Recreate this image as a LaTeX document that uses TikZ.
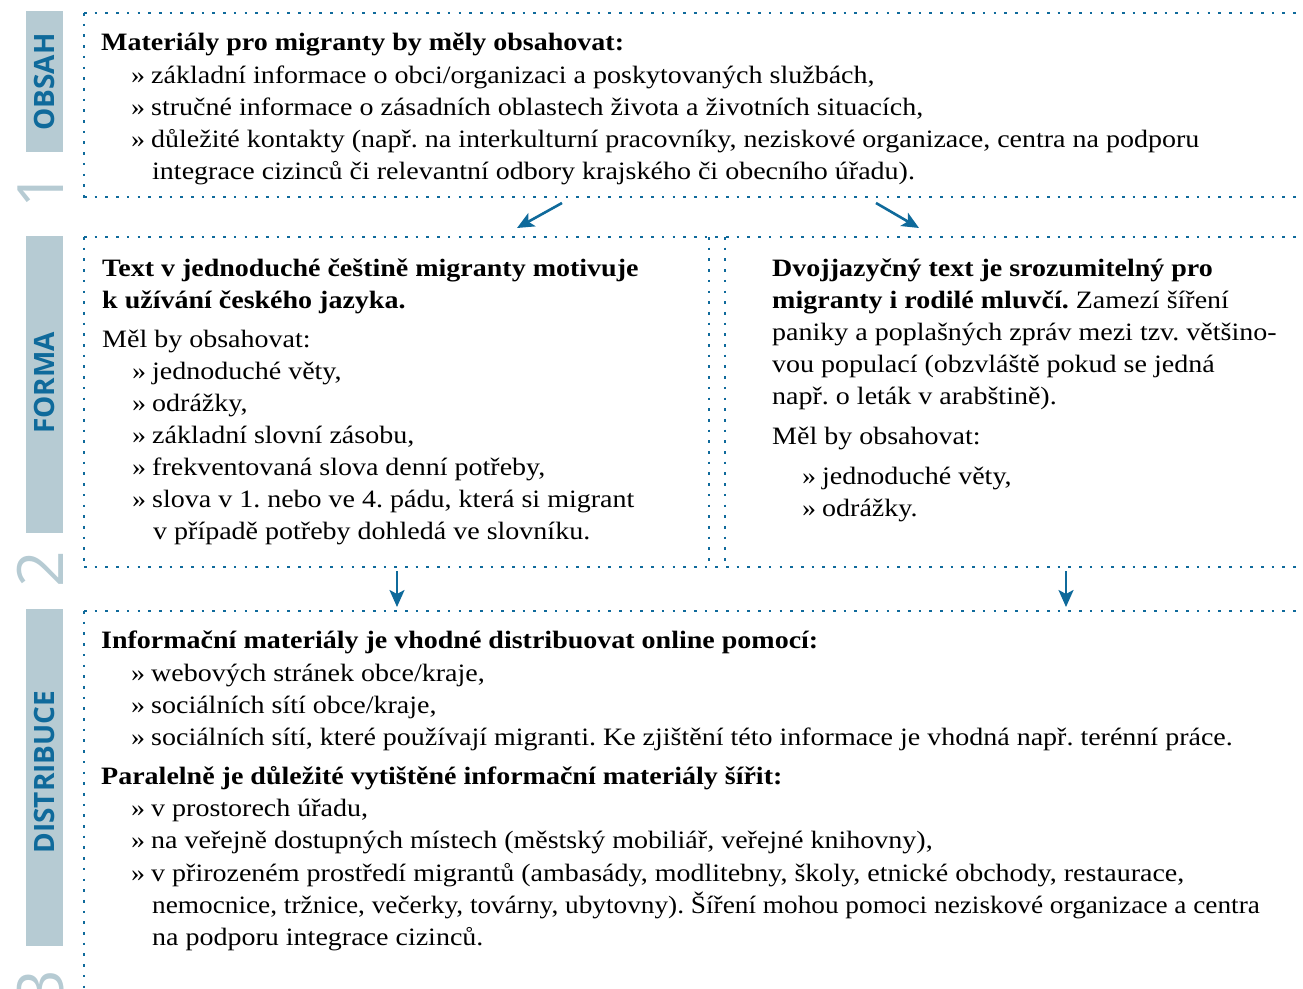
\documentclass[tikz,border=0pt]{standalone}
\usepackage{fontspec}
\usepackage{graphicx}
\setmainfont[FakeStretch=1.12]{Liberation Serif}
\newfontfamily\labelfont{Open Sans}
\usetikzlibrary{arrows.meta}
\definecolor{blu}{HTML}{0F6A9B}
\definecolor{barc}{HTML}{B6CBD3}
\newcommand{\bitem}[4]{%
  \node[txt] (#1b) at (#2,#3) {»};
  \node[txt] (#1) at ({#2+20},#3) {#4};}
\begin{document}
\frenchspacing
\begin{tikzpicture}[x=1pt,y=-1pt,
  dotline/.style={blu, line width=2.6pt, dash pattern=on 2.6pt off 8.1pt},
  txt/.style={anchor=base west, inner sep=0pt, font=\fontsize{25}{32}\selectfont},
  btxt/.style={txt, font=\fontsize{25}{32}\selectfont\bfseries},
  lab/.style={rotate=90, text=blu, font=\fontsize{28}{30}\selectfont\labelfont\bfseries, inner sep=0pt},
  num/.style={rotate=90, text=barc, font=\fontsize{64}{64}\selectfont\labelfont, anchor=base, inner sep=0pt},
  bar/.style={fill=barc, draw=none},
  arr/.style={draw=blu, line width=2.6pt, -{Stealth[length=17pt,width=15pt,inset=4pt]}}]
\useasboundingbox (0,0) rectangle (1303,988);
% side bars
\fill[bar] (26,11) rectangle (63,152);
\fill[bar] (26,236) rectangle (63,533);
\fill[bar] (26,609) rectangle (63,946);
\node[lab] (obsah) at (44,82) {OBSAH};
\node[lab] (forma) at (44,383) {FORMA};
\node[lab] (distr) at (44,772) {DISTRIBUCE};
\node[num] (n1) at (63,190) {1};
\node[num] (n2) at (63,569) {2};
\node[num] (n3) at (63,988) {3};
% dotted frames
\draw[dotline] (84,13) -- (1303,13);
\draw[dotline] (84,13) -- (84,198);
\draw[dotline] (84,197) -- (1303,197);
\draw[dotline] (84,237) -- (1303,237);
\draw[dotline] (84,237) -- (84,568);
\draw[dotline] (709,237) -- (709,568);
\draw[dotline] (725,237) -- (725,568);
\draw[dotline] (84,567) -- (1303,567);
\draw[dotline] (84,611) -- (1303,611);
\draw[dotline] (84,611) -- (84,990);
% arrows
\coordinate (a1s) at (562,203); \coordinate (a1e) at (517,228);
\coordinate (a2s) at (876,203); \coordinate (a2e) at (919,228);
\coordinate (a3s) at (397,571); \coordinate (a3e) at (397,607);
\coordinate (a4s) at (1066,571); \coordinate (a4e) at (1066,607);
\draw[arr] (a1s) -- (a1e);
\draw[arr] (a2s) -- (a2e);
\draw[arr] (a3s) -- (a3e);
\draw[arr] (a4s) -- (a4e);
% section 1
\node[btxt] (h1) at (101,50) {Materiály pro migranty by měly obsahovat:};
\bitem{s1a}{131}{83}{základní informace o obci/organizaci a poskytovaných službách,}
\bitem{s1b}{131}{115}{stručné informace o zásadních oblastech života a životních situacích,}
\bitem{s1c}{131}{147}{důležité kontakty (např. na interkulturní pracovníky, neziskové organizace, centra na podporu}
\node[txt] (s1d) at (152,179) {integrace cizinců či relevantní odbory krajského či obecního úřadu).};
% section 2 left
\node[btxt] (h2a) at (102,276) {Text v jednoduché češtině migranty motivuje};
\node[btxt] (h2b) at (102,308) {k užívání českého jazyka.};
\node[txt] (m2l) at (102,347) {Měl by obsahovat:};
\bitem{s2a}{132}{379}{jednoduché věty,}
\bitem{s2b}{132}{411}{odrážky,}
\bitem{s2c}{132}{443}{základní slovní zásobu,}
\bitem{s2d}{132}{475}{frekventovaná slova denní potřeby,}
\bitem{s2e}{132}{507}{slova v 1. nebo ve 4. pádu, která si migrant}
\node[txt] (s2f) at (153,539) {v případě potřeby dohledá ve slovníku.};
% section 2 right
\node[btxt] (h2c) at (772,276) {Dvojjazyčný text je srozumitelný pro};
\node[txt] (r2a) at (772,308) {\textbf{migranty i rodilé mluvčí.} Zamezí šíření};
\node[txt] (r2b) at (772,340) {paniky a poplašných zpráv mezi tzv. většino-};
\node[txt] (r2c) at (772,372) {vou populací (obzvláště pokud se jedná};
\node[txt] (r2d) at (772,404) {např. o leták v arabštině).};
\node[txt] (m2r) at (772,444) {Měl by obsahovat:};
\bitem{r2e}{802}{484}{jednoduché věty,}
\bitem{r2f}{802}{516}{odrážky.}
% section 3
\node[btxt] (h3a) at (101,648) {Informační materiály je vhodné distribuovat online pomocí:};
\bitem{s3a}{131}{681}{webových stránek obce/kraje,}
\bitem{s3b}{131}{713}{sociálních sítí obce/kraje,}
\bitem{s3c}{131}{745}{sociálních sítí, které používají migranti. Ke zjištění této informace je vhodná např. terénní práce.}
\node[btxt] (h3b) at (101,784) {Paralelně je důležité vytištěné informační materiály šířit:};
\bitem{s3d}{131}{816}{v prostorech úřadu,}
\bitem{s3e}{131}{848}{na veřejně dostupných místech (městský mobiliář, veřejné knihovny),}
\bitem{s3f}{131}{881}{v přirozeném prostředí migrantů (ambasády, modlitebny, školy, etnické obchody, restaurace,}
\node[txt] (s3g) at (152,913) {\scalebox{0.974}[1]{nemocnice, tržnice, večerky, továrny, ubytovny). Šíření mohou pomoci neziskové organizace a centra}};
\node[txt] (s3h) at (152,945) {na podporu integrace cizinců.};
\end{tikzpicture}
\end{document}
